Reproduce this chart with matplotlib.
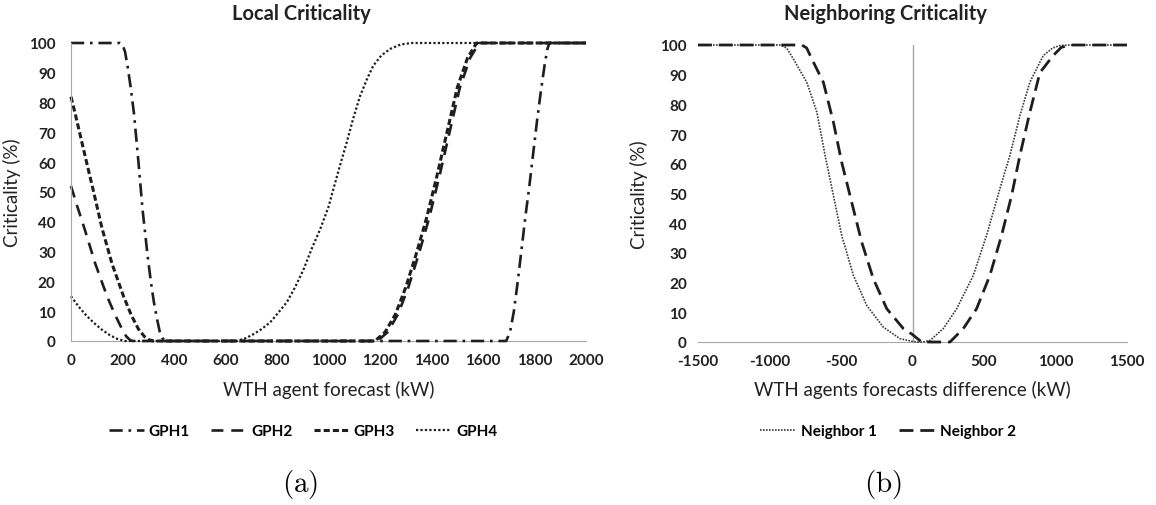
import matplotlib
matplotlib.use("Agg")
import matplotlib.pyplot as plt

plt.rcParams['font.family'] = ['Lato', 'DejaVu Sans']
plt.rcParams['mathtext.fontset'] = 'cm'
plt.rcParams['axes.unicode_minus'] = False

# ---- (a) Local criticality ----
gph1_x = [0, 190, 200, 210, 220, 232, 245, 262, 278, 297, 310, 322, 335, 345, 355, 365,
          1690, 1705, 1720, 1735, 1750, 1765, 1780, 1795, 1810, 1825, 1840, 1850, 1858, 2000]
gph1_y = [100, 100, 99.5, 97, 92, 85, 76, 60, 44, 29, 20, 13, 7, 3, 1, 0,
          0, 3, 10, 20, 31, 42, 52, 63, 74, 84, 93, 98, 100, 100]

gph2_x = [0, 25, 55, 94, 140, 170, 198, 215, 230, 240,
          1190, 1230, 1270, 1310, 1350, 1390, 1430, 1470, 1510, 1550, 1585, 2000]
gph2_y = [52, 45, 37, 26, 15, 9, 4, 1.5, 0.3, 0,
          0, 3, 9, 18, 29, 41, 55, 70, 85, 95, 100, 100]

gph3_x = [0, 17, 55, 88, 120, 159, 204, 235, 262, 285, 300, 320,
          1180, 1220, 1260, 1300, 1340, 1380, 1420, 1460, 1500, 1540, 1575, 2000]
gph3_y = [82, 76, 62, 50, 38, 26, 15, 8.5, 4, 1.5, 0.5, 0,
          0, 3, 9, 18, 29, 41, 55, 70, 85, 95, 100, 100]

gph4_x = [0, 30, 60, 90, 120, 150, 180, 210,
          644, 680, 709, 740, 774, 805, 838, 870, 903, 935, 968, 1000, 1019, 1045,
          1071, 1097, 1123, 1150, 1174, 1205, 1239, 1280, 1323, 2000]
gph4_y = [15, 11.5, 8.5, 6, 3.8, 2, 0.7, 0,
          0, 1, 2.3, 4, 6.3, 9.5, 13, 18, 24, 31, 37.6, 45, 51, 59,
          66.7, 75, 82.3, 88, 92.4, 95.8, 98, 99.5, 100, 100]

# ---- (b) Neighboring criticality ----
n1_x = [-1500, -926, -880, -833, -739, -669, -611, -553, -495, -413, -320, -204, -87, 0,
        29, 70, 122, 215, 309, 425, 518, 611, 681, 751, 821, 914, 980, 1030, 1100, 1500]
n1_y = [100, 100, 99, 95.3, 87.4, 77.4, 62.8, 49.3, 35.9, 22.4, 12.3, 5.0, 1.1, 0.2,
        0, 0, 0.5, 4.5, 11.2, 22.4, 35.9, 51.6, 62.8, 76.2, 87.5, 96.4, 99, 99.8, 100, 100]

n2_x = [-1500, -774, -740, -704, -623, -553, -495, -425, -355, -274, -180, -64, 0,
        64, 150, 262, 355, 448, 541, 623, 693, 751, 821, 891, 983, 1040, 1100, 1500]
n2_y = [100, 100, 99, 95.3, 87.4, 74, 60.5, 47, 33.6, 21.3, 11.2, 4.5, 2.5,
        0, 0, 0, 4.5, 11.2, 22.4, 35.9, 49.3, 62.8, 77.4, 90.7, 96.4, 99.2, 100, 100]

line_c = '#1e1e1e'
axis_c = '#a6a6a6'
text_c = '#222222'
W, H = 1156, 506

fig = plt.figure(figsize=(W / 100, H / 100), dpi=100)

def px_axes(x0, x1, ytop, ybot):
    return fig.add_axes([x0 / W, 1 - ybot / H, (x1 - x0) / W, (ybot - ytop) / H])

ax1 = px_axes(71, 586, 44, 342)
ax2 = px_axes(698, 1127, 46, 343)

l1, = ax1.plot(gph1_x, gph1_y, color=line_c, lw=1.9, ls=(0, (5, 2.2, 1, 2.2)), label='GPH1', clip_on=False)
l2, = ax1.plot(gph2_x, gph2_y, color=line_c, lw=1.9, ls=(0, (4.5, 3)), label='GPH2', clip_on=False)
l3, = ax1.plot(gph3_x, gph3_y, color=line_c, lw=2.2, ls=(0, (2, 1)), label='GPH3', clip_on=False)
l4, = ax1.plot(gph4_x, gph4_y, color=line_c, lw=1.6, ls=(0, (1, 1)), label='GPH4', clip_on=False)

m1, = ax2.plot(n1_x, n1_y, color='#3a3a3a', lw=1.2, ls=(0, (1, 0.8)), label='Neighbor 1', clip_on=False)
m2, = ax2.plot(n2_x, n2_y, color=line_c, lw=2.0, ls=(0, (5, 2.5)), label='Neighbor 2', clip_on=False)
ax2.axvline(0, color=axis_c, lw=1, zorder=0)

for ax in (ax1, ax2):
    ax.set_ylim(0, 100)
    ax.set_yticks(range(0, 101, 10))
    for s in ('top', 'right'):
        ax.spines[s].set_visible(False)
    ax.spines['bottom'].set_color(axis_c)
    ax.spines['left'].set_color(axis_c)
    ax.spines['bottom'].set_zorder(0.5)
    ax.tick_params(length=0, labelsize=11, colors=text_c)
    ax.set_ylabel('Criticality (%)', fontsize=13.5, color=text_c)

ax1.set_xlim(0, 2000)
ax1.set_xticks(range(0, 2001, 200))
ax1.tick_params(axis='y', pad=11)
ax1.tick_params(axis='x', pad=9)
ax1.yaxis.set_label_coords(-0.097, 0.5)
ax1.set_xlabel('WTH agent forecast (kW)', fontsize=13.5, color=text_c, va='center')
ax1.xaxis.set_label_coords(0.5, -0.161)

ax2.set_xlim(-1500, 1500)
ax2.set_xticks(range(-1500, 1501, 500))
ax2.spines['left'].set_visible(False)
ax2.tick_params(axis='y', pad=8)
ax2.tick_params(axis='x', pad=9)
ax2.yaxis.set_label_coords(-0.117, 0.5)
ax2.set_xlabel('WTH agents forecasts difference (kW)', fontsize=13.5, color=text_c, va='center')
ax2.xaxis.set_label_coords(0.5, -0.158)

for ax in (ax1, ax2):
    for lab in ax.get_xticklabels() + ax.get_yticklabels():
        lab.set_fontweight('bold')

fig.text(301 / W, 1 - 14 / H, 'Local Criticality', ha='center', va='center',
         fontsize=14.5, fontweight='bold', color=text_c)
fig.text(885 / W, 1 - 14 / H, 'Neighboring Criticality', ha='center', va='center',
         fontsize=14.5, fontweight='bold', color=text_c)

leg_font = {'weight': 'bold', 'size': 11}
fig.legend(handles=[l1, l2, l3, l4], loc='center', bbox_to_anchor=(303 / W, 1 - 432 / H),
           ncol=4, frameon=False, prop=leg_font, handlelength=2.3, handletextpad=0.3,
           columnspacing=1.4)
fig.legend(handles=[m1, m2], loc='center', bbox_to_anchor=(888 / W, 1 - 432 / H),
           ncol=2, frameon=False, prop=leg_font, handlelength=2.3, handletextpad=0.4,
           columnspacing=1.4)

fig.text(300 / W, 1 - 485 / H, r'$\mathrm{(a)}$', ha='center', va='center', fontsize=21)
fig.text(883 / W, 1 - 485 / H, r'$\mathrm{(b)}$', ha='center', va='center', fontsize=21)

fig.savefig('out.png', dpi=100)
